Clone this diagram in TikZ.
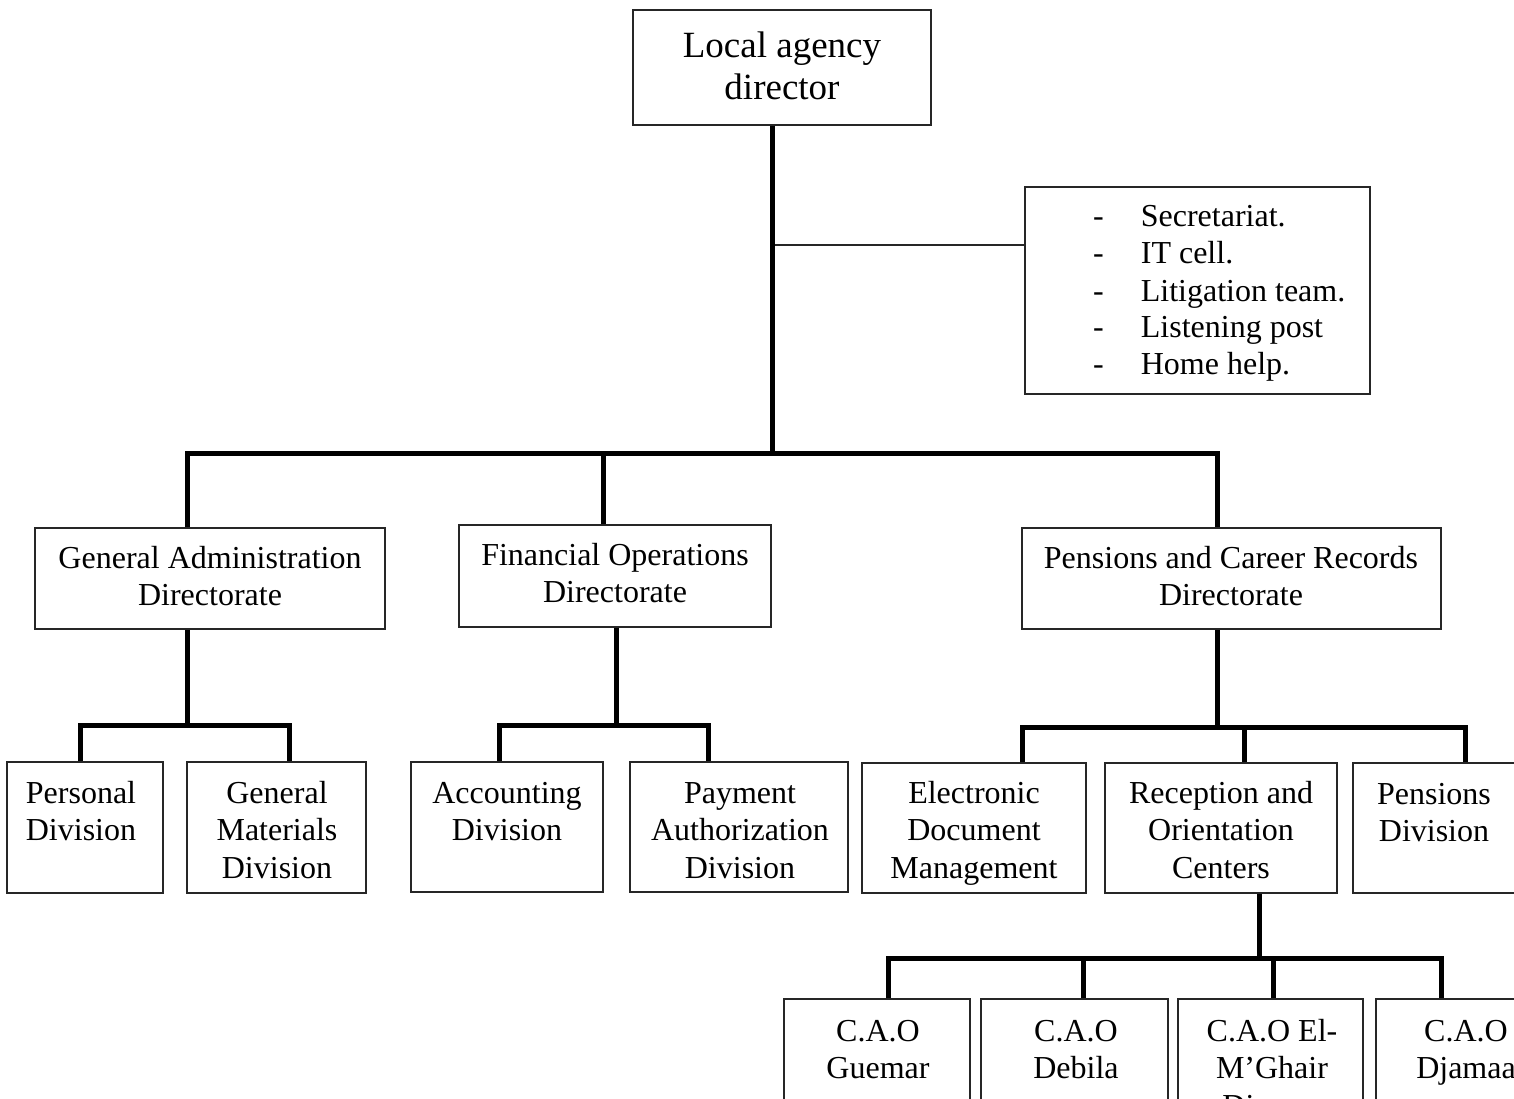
\documentclass[tikz,border=0pt]{standalone}
\usepackage{fontspec}
\setmainfont{Liberation Serif}
\newcommand\boxtext[1]{\begin{tabular}[t]{@{}c@{}}#1\end{tabular}}
% a framed box given by its corners (x1,y1) and (x2,y2)
\newcommand\mkbox[5]{\node[orgbox, minimum width={#4-#2}, minimum height={#5-#3}] (#1) at ({(#2+#4)/2},{(#3+#5)/2}) {};}
\tikzset{
  orgbox/.style={draw=black!85, line width=1.5pt, inner sep=0pt, fill=none},
  lbl/.style={anchor=base, inner sep=0pt, font=\fontsize{32}{37.5}\selectfont},
  toplbl/.style={anchor=base, inner sep=0pt, font=\fontsize{37}{42}\selectfont},
  conn/.style={line width=5pt, line join=miter, black},
  thinconn/.style={line width=2pt, black!85},
}
\begin{document}
\begin{tikzpicture}[x=1pt, y=-1pt]
\useasboundingbox (0,0) rectangle (1514,1099);
\clip (0,0) rectangle (1514,1099);

% boxes
\mkbox{dir}{633}{10}{931}{125}
\mkbox{sec}{1025}{187}{1370}{394}
\mkbox{ga}{35}{528}{385}{629}
\mkbox{fo}{459}{525}{771}{627}
\mkbox{pcr}{1022}{528}{1441}{629}
\mkbox{pers}{7}{762}{163}{893}
\mkbox{gm}{187}{762}{366}{893}
\mkbox{acc}{411}{762}{603}{892}
\mkbox{pay}{630}{762}{848}{892}
\mkbox{ele}{862}{763}{1086}{893}
\mkbox{rec}{1105}{763}{1337}{893}
\mkbox{pen}{1353}{763}{1520}{893}
\mkbox{caoa}{784}{999}{970}{1150}
\mkbox{caob}{981}{999}{1168}{1150}
\mkbox{caoc}{1178}{999}{1363}{1150}
\mkbox{caod}{1376}{999}{1560}{1150}

% texts
\node[toplbl] (dirT) at (782,58) {\boxtext{Local agency\\director}};
\node[anchor=base west, inner sep=0pt, font=\fontsize{32}{37}\selectfont] (secT) at (1093,227)
  {\begin{tabular}[t]{@{}l@{\hspace{37pt}}l@{}}
   -&Secretariat.\\ -&IT cell.\\ -&Litigation team.\\ -&Listening post\\ -&Home help.
   \end{tabular}};
\node[lbl] (gaT) at (210,568) {\boxtext{General Administration\\Directorate}};
\node[lbl] (foT) at (615,565) {\boxtext{Financial Operations\\Directorate}};
\node[lbl] (pcrT) at (1231,568) {\boxtext{Pensions and Career Records\\Directorate}};
\node[lbl] (persT) at (81,803) {\boxtext{Personal\\Division}};
\node[lbl] (gmT) at (277,803) {\boxtext{General\\Materials\\Division}};
\node[lbl] (accT) at (507,803) {\boxtext{Accounting\\Division}};
\node[lbl] (payT) at (740,803) {\boxtext{Payment\\Authorization\\Division}};
\node[lbl] (eleT) at (974,803) {\boxtext{Electronic\\Document\\Management}};
\node[lbl] (recT) at (1221,803) {\boxtext{Reception and\\Orientation\\Centers}};
\node[lbl] (penT) at (1434,804) {\boxtext{Pensions\\Division}};
\node[lbl] (caoaT) at (878,1041) {\boxtext{C.A.O\\Guemar}};
\node[lbl] (caobT) at (1076,1041) {\boxtext{C.A.O\\Debila}};
\node[lbl] (caocT) at (1272,1041) {\boxtext{C.A.O El-\\M'Ghair\\Djamaa}};
\node[lbl] (caodT) at (1466,1041) {\boxtext{C.A.O\\Djamaa}};

% junction points
\coordinate (hub) at (772,453);
\coordinate (d1) at (187,453);
\coordinate (d2) at (603,453);
\coordinate (d3) at (1217,453);
\coordinate (br) at (772,245);
\coordinate (gh) at (187,725);
\coordinate (g1) at (80,725);
\coordinate (g2) at (289,725);
\coordinate (fh) at (616,725);
\coordinate (f1) at (499,725);
\coordinate (f2) at (708,725);
\coordinate (ph) at (1217,727);
\coordinate (p1) at (1022,727);
\coordinate (p2) at (1244,727);
\coordinate (p3) at (1465,727);
\coordinate (rh) at (1259,958);
\coordinate (r1) at (888,958);
\coordinate (r2) at (1083,958);
\coordinate (r3) at (1273,958);
\coordinate (r4) at (1441,958);

% connectors
\draw[thinconn] (br) -- (br -| sec.west);
\draw[conn] (dir.south -| hub) -- (hub);
\draw[conn] (ga.north -| d1) -- (d1) -- (d3) -- (pcr.north -| d3);
\draw[conn] (fo.north -| d2) -- (d2);

\draw[conn] (ga.south -| gh) -- (gh);
\draw[conn] (pers.north -| g1) -- (g1) -- (g2) -- (gm.north -| g2);

\draw[conn] (fo.south -| fh) -- (fh);
\draw[conn] (acc.north -| f1) -- (f1) -- (f2) -- (pay.north -| f2);

\draw[conn] (pcr.south -| ph) -- (ph);
\draw[conn] (ele.north -| p1) -- (p1) -- (p3) -- (pen.north -| p3);
\draw[conn] (rec.north -| p2) -- (p2);

\draw[conn] (rec.south -| rh) -- (rh);
\draw[conn] (caoa.north -| r1) -- (r1) -- (r4) -- (caod.north -| r4);
\draw[conn] (caob.north -| r2) -- (r2);
\draw[conn] (caoc.north -| r3) -- (r3);
\end{tikzpicture}
\end{document}
